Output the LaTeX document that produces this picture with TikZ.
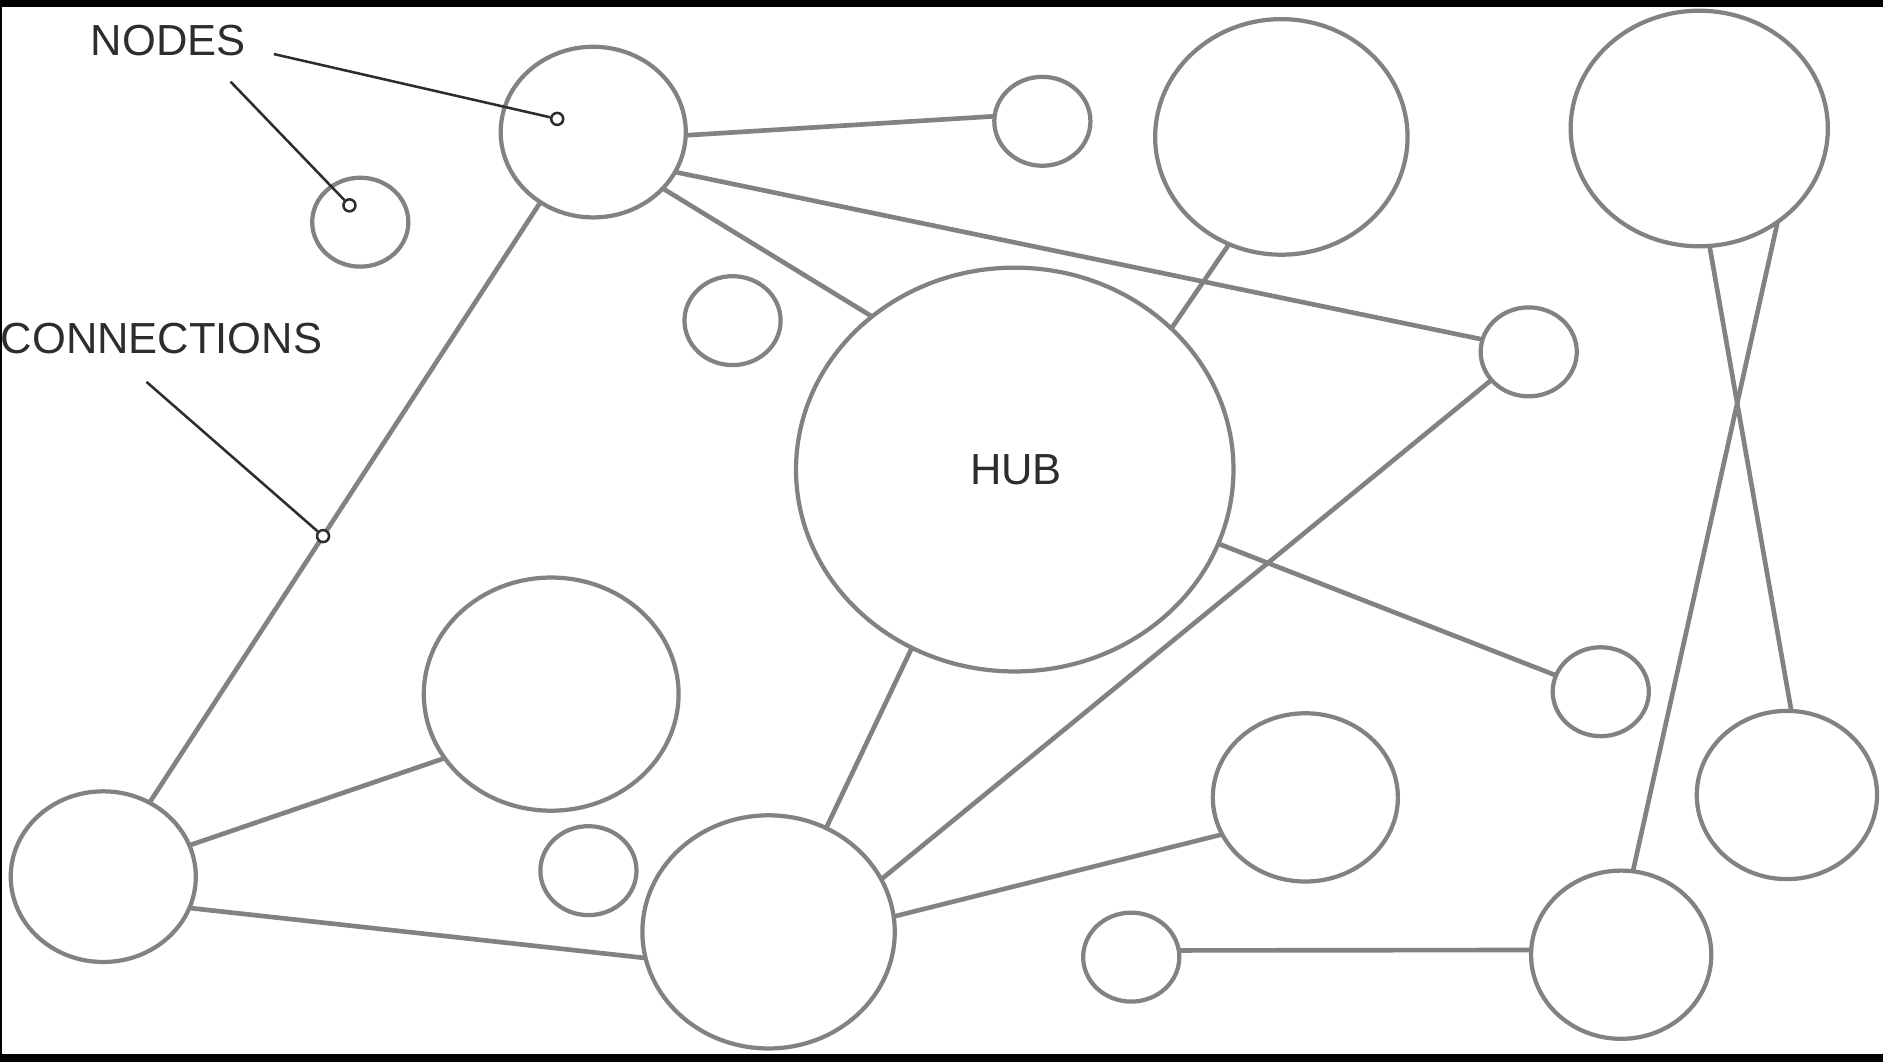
\documentclass[tikz,border=0pt]{standalone}
\usepackage{fontspec}
\setmainfont{Liberation Sans}
\usetikzlibrary{shapes.geometric,calc}
\definecolor{edgegray}{RGB}{130,130,130}
\definecolor{inkdark}{RGB}{45,45,45}
\tikzset{
  nd/.style 2 args={ellipse, draw=edgegray, line width=1pt, fill=white,
     minimum width=#1*0.02cm, minimum height=#2*0.02cm, inner sep=0pt, outer sep=0pt},
  link/.style={draw=edgegray, line width=1.1pt},
  pointer/.style={draw=inkdark, line width=0.6pt},
  marker/.style={circle, draw=inkdark, line width=0.6pt, fill=white, minimum size=0.1cm, inner sep=0pt},
  lbl/.style={text=inkdark, font=\fontsize{10.3}{12}\selectfont, inner sep=0pt}
}
\begin{document}
\begin{tikzpicture}[x=0.01cm,y=-0.01cm]
\fill[black] (0,0) rectangle (1568,884);
\fill[white] (2,6) rectangle (1568,878);
\useasboundingbox (0,0) rectangle (1568,884);

% nodes
\node[nd={40}{37}] (s1) at (300,185) {};
\node[nd={77}{71}] (A) at (494,110) {};
\node[nd={40}{37}] (s3) at (868,101) {};
\node[nd={105}{98}] (T4) at (1067,114) {};
\node[nd={107}{98}] (T5) at (1415,107) {};
\node[nd={40}{37}] (s6) at (610,267) {};
\node[nd={182}{168}] (hub) at (845,391) {};
\node[nd={40}{37}] (s8) at (1273,293) {};
\node[nd={40}{37}] (s9) at (1333,576) {};
\node[nd={75}{70}] (R10) at (1488,662) {};
\node[nd={106}{97}] (M11) at (459,578) {};
\node[nd={77}{71}] (L12) at (86,730) {};
\node[nd={40}{37}] (s13) at (490,725) {};
\node[nd={105}{97}] (B14) at (640,776) {};
\node[nd={77}{70}] (B15) at (1087,664) {};
\node[nd={40}{37}] (s16) at (942,797) {};
\node[nd={75}{70}] (B17) at (1350,795) {};

% connectors
\draw[link] (A.-2) -- (s3.174);
\draw[link] (A.-26) -- (s8.165);
\draw[link] (A.-39) -- (hub.133);
\draw[link] (A.233) -- (L12.58);
\draw[link] (T4.244) -- (hub.42);
\draw[link] (hub.-20) -- (s9.160);
\draw[link] (s8.217) -- (B14.25);
\draw[link] (hub.240) -- (B14.61);
\draw[link] (T5.-85) -- (R10.87);
\draw[link] (T5.-50.5) -- (B17.82);
\draw[link] (M11.211) -- (L12.20);
\draw[link] (L12.-20) -- (B14.192);
\draw[link] (B14.7.5) -- (B15.204);
\draw[link] (s16.8) -- (B17.177);

% labels
\node[lbl] (hubtxt) at (846,391) {HUB};
\node[lbl] (nodestxt) at (140,34) {NODES};
\node[lbl, anchor=west] (conntxt) at (0,282) {CONNECTIONS};

% annotation pointers
\coordinate (p1) at (228,45);
\coordinate (p2) at (192,68);
\coordinate (p3) at (122,318);
\node[marker] (m1) at (464,99) {};
\node[marker] (m2) at (291,171) {};
\node[marker] (m3) at ($(A.233)!0.556!(L12.58)$) {};
\draw[pointer] (p1) -- (m1);
\draw[pointer] (p2) -- (m2);
\draw[pointer] (p3) -- (m3);
\end{tikzpicture}
\end{document}
